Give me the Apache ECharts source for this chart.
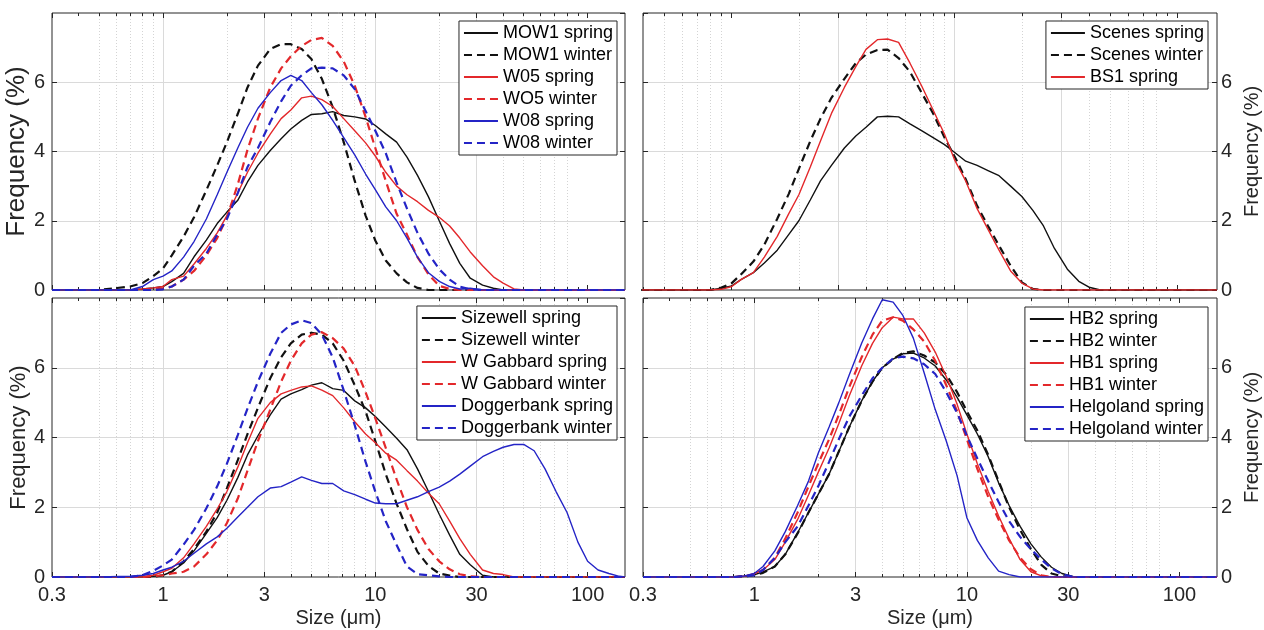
<!DOCTYPE html>
<html>
<head>
<meta charset="utf-8">
<script src="https://cdn.jsdelivr.net/npm/echarts@6/dist/echarts.min.js"></script>
<style>
  html, body { margin: 0; background: #fff; }
  #chart { width: 1264px; height: 630px; }
</style>
</head>
<body>
<div id="chart"></div>
<script>
// particle size bins (um), shared by every curve
var sizes = [0.3, 0.5, 0.7, 0.8, 0.9, 1.0, 1.1, 1.25, 1.4, 1.6,
  1.8, 2.0, 2.25, 2.5, 2.8, 3.2, 3.6, 4.0, 4.5, 5.0,
  5.6, 6.3, 7.1, 8.0, 9.0, 10, 11.2, 12.6, 14.1, 15.8,
  17.8, 20, 22.4, 25, 28, 32, 36, 40, 45, 50,
  56, 63, 71, 80, 90, 100, 112, 126, 141, 150];

var majorTicks = [0.3, 1, 3, 10, 30, 100];
var minorTicks = [0.4, 0.5, 0.6, 0.7, 0.8, 0.9, 2, 4, 5, 6, 7, 8, 9, 20, 40, 50, 60, 70, 80, 90];

// top left
var mow1Spring = [0, 0, 0, 0.03, 0.06, 0.1, 0.24, 0.48, 0.96, 1.44,
  1.92, 2.25, 2.59, 3.12, 3.6, 4.03, 4.37, 4.65, 4.9, 5.07,
  5.09, 5.15, 5.04, 5.0, 4.94, 4.75, 4.51, 4.27, 3.84, 3.31,
  2.69, 2.0, 1.34, 0.77, 0.34, 0.14, 0.05, 0, 0, 0,
  0, 0, 0, 0, 0, 0, 0, 0, 0, 0];
var mow1Winter = [0, 0, 0.1, 0.2, 0.4, 0.62, 1.0, 1.54, 2.1, 2.88,
  3.6, 4.27, 5.09, 5.85, 6.48, 6.96, 7.1, 7.1, 6.96, 6.67,
  6.1, 5.28, 4.27, 3.15, 2.15, 1.43, 0.85, 0.48, 0.22, 0.06,
  0, 0, 0, 0, 0, 0, 0, 0, 0, 0,
  0, 0, 0, 0, 0, 0, 0, 0, 0, 0];
var w05Spring = [0, 0, 0, 0.03, 0.06, 0.1, 0.3, 0.4, 0.75, 1.2,
  1.65, 2.15, 2.8, 3.4, 3.95, 4.5, 4.95, 5.2, 5.55, 5.6,
  5.5, 5.3, 4.95, 4.6, 4.25, 3.87, 3.4, 3.0, 2.75, 2.55,
  2.3, 2.1, 1.85, 1.5, 1.1, 0.7, 0.38, 0.2, 0.03, 0,
  0, 0, 0, 0, 0, 0, 0, 0, 0, 0];
var w05Winter = [0, 0, 0, 0, 0.02, 0.05, 0.1, 0.3, 0.55, 1.0,
  1.5, 2.1, 3.05, 4.05, 4.95, 5.85, 6.4, 6.75, 7.05, 7.22,
  7.28, 7.05, 6.6, 5.9, 5.0, 4.1, 3.15, 2.2, 1.6, 0.95,
  0.45, 0.12, 0.03, 0, 0, 0, 0, 0, 0, 0,
  0, 0, 0, 0, 0, 0, 0, 0, 0, 0];
var w08Spring = [0, 0, 0, 0.1, 0.3, 0.4, 0.55, 0.95, 1.4, 2.05,
  2.75, 3.4, 4.1, 4.7, 5.25, 5.7, 6.05, 6.2, 6.05, 5.7,
  5.35, 4.9, 4.4, 3.9, 3.35, 2.9, 2.4, 2.0, 1.5, 0.95,
  0.5, 0.25, 0.1, 0.03, 0.05, 0, 0, 0, 0, 0,
  0, 0, 0, 0, 0, 0, 0, 0, 0, 0];
var w08Winter = [0, 0, 0, 0, 0, 0.02, 0.1, 0.3, 0.7, 1.05,
  1.6, 2.05, 2.8, 3.55, 4.1, 4.85, 5.45, 5.9, 6.2, 6.4,
  6.42, 6.4, 6.2, 5.8, 5.17, 4.6, 3.95, 3.1, 2.35, 1.65,
  1.05, 0.6, 0.3, 0.1, 0.02, 0, 0, 0, 0, 0,
  0, 0, 0, 0, 0, 0, 0, 0, 0, 0];

// top right
var scenesSpring = [0, 0, 0, 0, 0.05, 0.12, 0.3, 0.5, 0.78, 1.15,
  1.6, 2.0, 2.6, 3.15, 3.6, 4.1, 4.45, 4.7, 5.0, 5.02,
  5.0, 4.8, 4.6, 4.4, 4.2, 3.97, 3.72, 3.6, 3.45, 3.3,
  3.0, 2.7, 2.3, 1.85, 1.2, 0.6, 0.25, 0.08, 0, 0,
  0, 0, 0, 0, 0, 0, 0, 0, 0, 0];
var scenesWinter = [0, 0, 0, 0, 0.07, 0.2, 0.45, 0.82, 1.31, 2.06,
  2.77, 3.5, 4.3, 4.95, 5.55, 6.1, 6.55, 6.8, 6.93, 6.94,
  6.7, 6.3, 5.7, 5.1, 4.4, 3.85, 3.2, 2.43, 1.85, 1.28,
  0.7, 0.22, 0.03, 0, 0, 0, 0, 0, 0, 0,
  0, 0, 0, 0, 0, 0, 0, 0, 0, 0];
var bs1Spring = [0, 0, 0, 0, 0.02, 0.1, 0.3, 0.5, 0.95, 1.55,
  2.2, 2.75, 3.55, 4.3, 5.1, 5.85, 6.45, 6.95, 7.23, 7.25,
  7.15, 6.55, 5.9, 5.2, 4.5, 3.75, 3.15, 2.35, 1.75, 1.15,
  0.55, 0.2, 0.03, 0, 0, 0, 0, 0, 0, 0,
  0, 0, 0, 0, 0, 0, 0, 0, 0, 0];

// bottom left
var sizewellSpring = [0, 0, 0, 0, 0.02, 0.05, 0.15, 0.4, 0.75, 1.25,
  1.7, 2.2, 2.85, 3.5, 4.05, 4.65, 5.1, 5.25, 5.37, 5.5,
  5.57, 5.4, 5.35, 5.05, 4.85, 4.6, 4.3, 3.98, 3.65, 3.1,
  2.45, 1.8, 1.2, 0.65, 0.35, 0.05, 0, 0, 0, 0,
  0, 0, 0, 0, 0, 0, 0, 0, 0, 0];
var sizewellWinter = [0, 0, 0, 0, 0, 0.05, 0.15, 0.45, 0.8, 1.3,
  1.85, 2.55, 3.35, 4.1, 4.85, 5.7, 6.3, 6.7, 6.95, 7.0,
  6.95, 6.7, 6.2, 5.5, 4.75, 3.9, 2.95, 2.1, 1.37, 0.72,
  0.32, 0.1, 0.04, 0, 0, 0, 0, 0, 0, 0,
  0, 0, 0, 0, 0, 0, 0, 0, 0, 0];
var wGabbardSpring = [0, 0, 0, 0, 0.05, 0.15, 0.25, 0.55, 0.95, 1.45,
  1.95, 2.45, 3.15, 3.85, 4.55, 5.0, 5.25, 5.35, 5.45, 5.48,
  5.36, 5.2, 4.85, 4.45, 4.1, 3.85, 3.55, 3.35, 3.05, 2.75,
  2.4, 2.1, 1.6, 1.1, 0.65, 0.2, 0.1, 0.07, 0, 0,
  0, 0, 0, 0, 0, 0, 0, 0, 0, 0];
var wGabbardWinter = [0, 0, 0, 0, 0.02, 0.05, 0.1, 0.15, 0.3, 0.65,
  1.05, 1.55, 2.25, 3.05, 3.9, 4.8, 5.6, 6.2, 6.7, 6.95,
  7.02, 6.85, 6.55, 6.05, 5.3, 4.55, 3.7, 2.8, 2.0, 1.35,
  0.8, 0.45, 0.22, 0.08, 0.02, 0, 0, 0, 0, 0,
  0, 0, 0, 0, 0, 0, 0, 0, 0, 0];
var doggerSpring = [0, 0, 0.02, 0.05, 0.1, 0.2, 0.28, 0.45, 0.68, 0.95,
  1.15, 1.4, 1.72, 2.0, 2.3, 2.55, 2.59, 2.72, 2.87, 2.77,
  2.68, 2.68, 2.47, 2.36, 2.23, 2.12, 2.1, 2.1, 2.2, 2.3,
  2.45, 2.58, 2.75, 2.95, 3.18, 3.45, 3.6, 3.72, 3.8, 3.8,
  3.62, 3.1, 2.45, 1.85, 1.0, 0.45, 0.2, 0.1, 0.02, 0];
var doggerWinter = [0, 0, 0, 0.05, 0.18, 0.33, 0.5, 0.93, 1.35, 1.97,
  2.6, 3.25, 4.07, 4.83, 5.6, 6.4, 7.0, 7.24, 7.36, 7.28,
  6.95, 6.3, 5.35, 4.35, 3.3, 2.45, 1.6, 0.92, 0.3, 0.08,
  0.05, 0.02, 0, 0, 0, 0, 0, 0, 0, 0,
  0, 0, 0, 0, 0, 0, 0, 0, 0, 0];

// bottom right
var hb2Spring = [0, 0, 0, 0, 0.02, 0.06, 0.15, 0.3, 0.65, 1.27,
  1.85, 2.37, 2.95, 3.6, 4.3, 5.05, 5.6, 6.0, 6.25, 6.4,
  6.42, 6.28, 6.05, 5.65, 5.15, 4.65, 4.1, 3.45, 2.7, 2.05,
  1.45, 0.95, 0.57, 0.28, 0.1, 0, 0, 0, 0, 0,
  0, 0, 0, 0, 0, 0, 0, 0, 0, 0];
var hb2Winter = [0, 0, 0, 0, 0.02, 0.05, 0.12, 0.3, 0.65, 1.25,
  1.85, 2.37, 2.95, 3.6, 4.3, 5.05, 5.6, 6.0, 6.25, 6.42,
  6.47, 6.35, 6.15, 5.8, 5.3, 4.75, 4.2, 3.5, 2.75, 2.0,
  1.35, 0.8, 0.35, 0.1, 0.02, 0, 0, 0, 0, 0,
  0, 0, 0, 0, 0, 0, 0, 0, 0, 0];
var hb1Spring = [0, 0, 0, 0, 0.02, 0.1, 0.2, 0.5, 1.0, 1.65,
  2.35, 3.0, 3.7, 4.4, 5.2, 6.05, 6.7, 7.15, 7.45, 7.4,
  7.4, 7.0, 6.45, 5.75, 4.95, 4.1, 3.25, 2.45, 1.75, 1.1,
  0.5, 0.15, 0.03, 0, 0, 0, 0, 0, 0, 0,
  0, 0, 0, 0, 0, 0, 0, 0, 0, 0];
var hb1Winter = [0, 0, 0, 0, 0.02, 0.08, 0.2, 0.55, 1.1, 1.85,
  2.6, 3.25, 3.95, 4.65, 5.45, 6.3, 6.95, 7.35, 7.45, 7.35,
  7.1, 6.75, 6.2, 5.5, 4.75, 3.95, 3.1, 2.3, 1.65, 1.05,
  0.55, 0.22, 0.05, 0, 0, 0, 0, 0, 0, 0,
  0, 0, 0, 0, 0, 0, 0, 0, 0, 0];
var helgoSpring = [0, 0, 0, 0, 0.03, 0.1, 0.3, 0.75, 1.3, 2.05,
  2.75, 3.55, 4.3, 5.0, 5.8, 6.7, 7.4, 7.95, 7.88, 7.5,
  6.85, 5.85, 4.8, 3.9, 2.9, 1.7, 1.05, 0.55, 0.17, 0.07,
  0, 0, 0, 0, 0, 0, 0, 0, 0, 0,
  0, 0, 0, 0, 0, 0, 0, 0, 0, 0];
var helgoWinter = [0, 0, 0, 0, 0.02, 0.05, 0.2, 0.55, 1.0, 1.45,
  2.05, 2.6, 3.3, 3.95, 4.6, 5.2, 5.7, 6.0, 6.27, 6.32,
  6.27, 6.1, 5.82, 5.3, 4.7, 4.05, 3.4, 2.75, 2.15, 1.6,
  1.15, 0.8, 0.5, 0.25, 0.08, 0, 0, 0, 0, 0,
  0, 0, 0, 0, 0, 0, 0, 0, 0, 0];

var font = "'Liberation Sans', Arial, Helvetica, sans-serif";
var ink = '#262626';
var colors = { k: '#111111', r: '#e3282b', b: '#2424c6' };

// [name, values, colour, dashed]
var panels = [
  { box: { left: 52, top: 13, width: 573, height: 277 }, xMin: 0.3, labels: false, side: 'left',
    yName: { size: 26, gap: 18 }, legend: { right: 647, top: 21 },
    lines: [['MOW1 spring', mow1Spring, 'k', false], ['MOW1 winter', mow1Winter, 'k', true],
      ['W05 spring', w05Spring, 'r', false], ['WO5 winter', w05Winter, 'r', true],
      ['W08 spring', w08Spring, 'b', false], ['W08 winter', w08Winter, 'b', true]] },
  { box: { left: 643, top: 13, width: 574, height: 277 }, xMin: 0.4, labels: false, side: 'right',
    yName: { size: 20, gap: 25 }, legend: { right: 56, top: 21 },
    lines: [['Scenes spring', scenesSpring, 'k', false], ['Scenes winter', scenesWinter, 'k', true],
      ['BS1 spring', bs1Spring, 'r', false]] },
  { box: { left: 52, top: 298, width: 573, height: 279 }, xMin: 0.3, labels: true, side: 'left',
    yName: { size: 22, gap: 20 }, legend: { right: 647, top: 306 },
    lines: [['Sizewell spring', sizewellSpring, 'k', false], ['Sizewell winter', sizewellWinter, 'k', true],
      ['W Gabbard spring', wGabbardSpring, 'r', false], ['W Gabbard winter', wGabbardWinter, 'r', true],
      ['Doggerbank spring', doggerSpring, 'b', false], ['Doggerbank winter', doggerWinter, 'b', true]] },
  { box: { left: 643, top: 298, width: 574, height: 279 }, xMin: 0.3, labels: true, side: 'right',
    yName: { size: 20, gap: 25 }, legend: { right: 56, top: 307 },
    lines: [['HB2 spring', hb2Spring, 'k', false], ['HB2 winter', hb2Winter, 'k', true],
      ['HB1 spring', hb1Spring, 'r', false], ['HB1 winter', hb1Winter, 'r', true],
      ['Helgoland spring', helgoSpring, 'b', false], ['Helgoland winter', helgoWinter, 'b', true]] }
];

function fmt(v) { return String(Math.round(v * 10) / 10); }

var grids = [], xAxes = [], yAxes = [], legends = [], series = [];

panels.forEach(function (p, gi) {
  grids.push(Object.assign({ show: true, borderColor: ink, borderWidth: 1, backgroundColor: '#fff' }, p.box));

  var base = { type: 'log', logBase: 10, gridIndex: gi, min: p.xMin, max: 150, axisLine: { show: false } };
  // major ticks + labels + solid grid
  xAxes.push(Object.assign({}, base, {
    position: 'bottom',
    name: p.labels ? 'Size (μm)' : '',
    nameLocation: 'middle', nameGap: 31,
    nameTextStyle: { fontSize: 20, color: ink, fontFamily: font },
    axisTick: { inside: true, length: 5, customValues: majorTicks, lineStyle: { color: ink } },
    axisLabel: { show: p.labels, customValues: majorTicks, formatter: fmt, fontSize: 20, color: ink, fontFamily: font, margin: 8 },
    splitLine: { show: true, showMinLine: false, showMaxLine: false, lineStyle: { color: '#dadada', width: 1 } }
  }));
  // minor ticks + dotted grid
  xAxes.push(Object.assign({}, base, {
    position: 'bottom',
    axisTick: { inside: true, length: 3, customValues: minorTicks, lineStyle: { color: ink } },
    axisLabel: { show: false, customValues: minorTicks },
    splitLine: { show: true, showMinLine: false, showMaxLine: false, lineStyle: { color: '#d4d4d4', width: 1, type: [1, 2] } }
  }));
  // mirrored ticks on top edge
  xAxes.push(Object.assign({}, base, {
    position: 'top',
    axisTick: { inside: true, length: 5, customValues: majorTicks, lineStyle: { color: ink } },
    axisLabel: { show: false, customValues: majorTicks },
    splitLine: { show: false }
  }));
  xAxes.push(Object.assign({}, base, {
    position: 'top',
    axisTick: { inside: true, length: 3, customValues: minorTicks, lineStyle: { color: ink } },
    axisLabel: { show: false, customValues: minorTicks },
    splitLine: { show: false }
  }));

  yAxes.push({
    type: 'value', gridIndex: gi, min: 0, max: 8, interval: 2, position: p.side,
    axisLine: { show: false },
    axisTick: { inside: true, length: 5, lineStyle: { color: ink } },
    axisLabel: { showMaxLabel: false, margin: p.side === 'left' ? 7 : 4, fontSize: 20, color: ink, fontFamily: font },
    splitLine: { show: true, showMinLine: false, showMaxLine: false, lineStyle: { color: '#dadada', width: 1 } },
    name: 'Frequency (%)', nameLocation: 'middle', nameRotate: 90,
    nameGap: p.yName.gap,
    nameTextStyle: { fontSize: p.yName.size, color: ink, fontFamily: font }
  });
  yAxes.push({
    type: 'value', gridIndex: gi, min: 0, max: 8, interval: 2,
    position: p.side === 'left' ? 'right' : 'left',
    axisLine: { show: false },
    axisTick: { inside: true, length: 5, lineStyle: { color: ink } },
    axisLabel: { show: false },
    splitLine: { show: false }
  });

  legends.push({
    data: p.lines.map(function (l) { return l[0]; }),
    orient: 'vertical', right: p.legend.right, top: p.legend.top,
    itemWidth: 34, itemHeight: 12, itemGap: 4,
    padding: [3, 4, 3, 4],
    borderColor: ink, borderWidth: 1, backgroundColor: '#fff',
    selectedMode: false,
    itemStyle: { opacity: 0 },
    textStyle: { fontSize: 18, color: '#000', fontFamily: font, lineHeight: 18 }
  });

  p.lines.forEach(function (l) {
    series.push({
      name: l[0], type: 'line',
      xAxisIndex: gi * 4, yAxisIndex: gi * 2,
      data: sizes.map(function (s, i) { return [s, l[1][i]]; }),
      symbol: 'none', smooth: false, clip: true,
      color: colors[l[2]],
      lineStyle: { color: colors[l[2]], width: l[3] ? 2.2 : 1.4, type: l[3] ? [8, 5] : 'solid' }
    });
  });
});

var chart = echarts.init(document.getElementById('chart'), null, { renderer: 'canvas' });
chart.setOption({
  animation: false,
  backgroundColor: '#fff',
  grid: grids,
  xAxis: xAxes,
  yAxis: yAxes,
  legend: legends,
  series: series
});
</script>
</body>
</html>
